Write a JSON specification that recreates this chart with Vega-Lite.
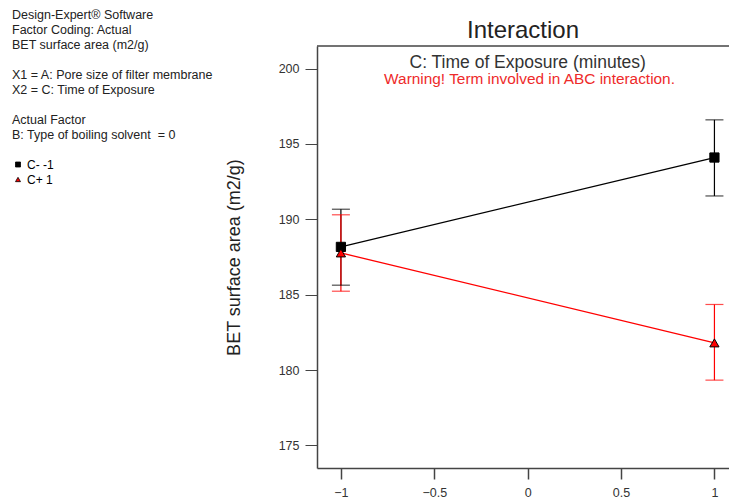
{
  "$schema": "https://vega.github.io/schema/vega-lite/v6.json",
  "width": 412,
  "height": 422,
  "autosize": {"type": "none"},
  "padding": {"left": 317, "top": 46, "right": 0, "bottom": 32},
  "title": {"text": "Interaction", "fontSize": 24, "font": "Liberation Sans", "fontWeight": "normal", "color": "#222222", "anchor": "middle", "frame": "group", "offset": -34},
  "config": {"view": {"stroke": null}, "font": "Liberation Sans"},
  "data": {"values": [
    {"A": -1, "series": "C- -1", "bet": 188.17, "lower": 185.63, "upper": 190.67},
    {"A": 1, "series": "C- -1", "bet": 194.1, "lower": 191.55, "upper": 196.6},
    {"A": -1, "series": "C+ 1", "bet": 187.77, "lower": 185.23, "upper": 190.3},
    {"A": 1, "series": "C+ 1", "bet": 181.8, "lower": 179.33, "upper": 184.35}
  ]},
  "layer": [
    {
      "data": {"values": [{"top": 201.5}]},
      "mark": {"type": "rule", "color": "#444444", "strokeWidth": 1.5},
      "encoding": {"y": {"field": "top", "type": "quantitative"}}
    },
    {
      "mark": {"type": "line", "strokeWidth": 1.3},
      "encoding": {
        "x": {"field": "A", "type": "quantitative",
          "scale": {"domain": [-1.128, 1.078], "nice": false, "zero": false},
          "axis": {"values": [-1, -0.5, 0, 0.5, 1], "format": "~g", "title": null, "grid": false, "tickSize": 11, "tickColor": "#444444", "tickWidth": 1.5, "domainColor": "#444444", "domainWidth": 1.5, "labelFontSize": 12.5, "labelColor": "#333333", "labelPadding": 7, "labelFlush": false}},
        "y": {"field": "bet", "type": "quantitative",
          "scale": {"domain": [173.5, 201.5], "nice": false, "zero": false},
          "axis": {"values": [175, 180, 185, 190, 195, 200], "title": "BET surface area (m2/g)", "titleFontSize": 18, "titleFontWeight": "normal", "titleColor": "#222222", "titlePadding": 35, "grid": false, "tickSize": 12, "tickColor": "#444444", "tickWidth": 1, "domainColor": "#444444", "domainWidth": 1.5, "labelFontSize": 12.5, "labelColor": "#333333", "labelPadding": 6}},
        "detail": {"field": "series", "type": "nominal"},
        "color": {"condition": {"test": "datum.series === 'C+ 1'", "value": "#ff0000"}, "value": "#000000"}
      }
    },
    {
      "mark": {"type": "rule", "strokeWidth": 1.2},
      "encoding": {
        "x": {"field": "A", "type": "quantitative"},
        "y": {"field": "lower", "type": "quantitative"},
        "y2": {"field": "upper"},
        "color": {"condition": {"test": "datum.series === 'C+ 1'", "value": "#ff0000"}, "value": "#000000"}
      }
    },
    {
      "mark": {"type": "tick", "orient": "horizontal", "size": 18, "thickness": 1.2},
      "encoding": {
        "x": {"field": "A", "type": "quantitative"},
        "y": {"field": "lower", "type": "quantitative"},
        "color": {"condition": {"test": "datum.series === 'C+ 1'", "value": "#ff0000"}, "value": "#000000"}
      }
    },
    {
      "mark": {"type": "tick", "orient": "horizontal", "size": 18, "thickness": 1.2},
      "encoding": {
        "x": {"field": "A", "type": "quantitative"},
        "y": {"field": "upper", "type": "quantitative"},
        "color": {"condition": {"test": "datum.series === 'C+ 1'", "value": "#ff0000"}, "value": "#000000"}
      }
    },
    {
      "mark": {"type": "point", "filled": true, "size": 85, "stroke": "#000000", "strokeWidth": 1, "opacity": 1},
      "encoding": {
        "x": {"field": "A", "type": "quantitative"},
        "y": {"field": "bet", "type": "quantitative"},
        "color": {"field": "series", "type": "nominal", "scale": {"domain": ["C- -1", "C+ 1"], "range": ["#000000", "#ff0000"]},
          "legend": {
            "title": ["Design-Expert® Software", "Factor Coding: Actual", "BET surface area (m2/g)", "\u2800", "X1 = A: Pore size of filter membrane", "X2 = C: Time of Exposure", "\u2800", "Actual Factor", "B: Type of boiling solvent \u00a0= 0"],
            "orient": "none", "legendX": -305, "legendY": -37, "padding": 0,
            "titleFontSize": 12.5, "titleFontWeight": "normal", "titleColor": "#222222", "titleLineHeight": 15, "titlePadding": 17, "titleLimit": 400,
            "labelFontSize": 12, "labelOffset": 3, "rowPadding": 3, "symbolSize": 25, "symbolOffset": 0, "symbolStrokeColor": "#000000", "symbolStrokeWidth": 0.8,
            "encode": {
              "labels": {"update": {"fill": {"signal": "datum.value === 'C+ 1' ? '#ff0000' : '#111111'"}}}
            }
          }},
        "shape": {"field": "series", "type": "nominal", "scale": {"domain": ["C- -1", "C+ 1"], "range": ["square", "triangle-up"]},
          "legend": {
            "title": ["Design-Expert® Software", "Factor Coding: Actual", "BET surface area (m2/g)", "\u2800", "X1 = A: Pore size of filter membrane", "X2 = C: Time of Exposure", "\u2800", "Actual Factor", "B: Type of boiling solvent \u00a0= 0"],
            "orient": "none", "legendX": -305, "legendY": -37, "padding": 0,
            "titleFontSize": 12.5, "titleFontWeight": "normal", "titleColor": "#222222", "titleLineHeight": 15, "titlePadding": 17, "titleLimit": 400,
            "labelFontSize": 12, "labelOffset": 3, "rowPadding": 3, "symbolSize": 25, "symbolOffset": 0, "symbolStrokeColor": "#000000", "symbolStrokeWidth": 0.8,
            "encode": {
              "labels": {"update": {"fill": {"signal": "datum.value === 'C+ 1' ? '#ff0000' : '#111111'"}}}
            }
          }}
      }
    },
    {
      "data": {"values": [{"x": 0, "y": 200.35, "label": "C: Time of Exposure (minutes)"}]},
      "mark": {"type": "text", "fontSize": 17.5, "fontWeight": "normal", "color": "#333333"},
      "encoding": {"x": {"field": "x", "type": "quantitative"}, "y": {"field": "y", "type": "quantitative"}, "text": {"field": "label"}}
    },
    {
      "data": {"values": [{"x": 0.01, "y": 199.3, "label": "Warning! Term involved in ABC interaction."}]},
      "mark": {"type": "text", "fontSize": 15.4, "fontWeight": "normal", "color": "#ee2a2a"},
      "encoding": {"x": {"field": "x", "type": "quantitative"}, "y": {"field": "y", "type": "quantitative"}, "text": {"field": "label"}}
    }
  ]
}
